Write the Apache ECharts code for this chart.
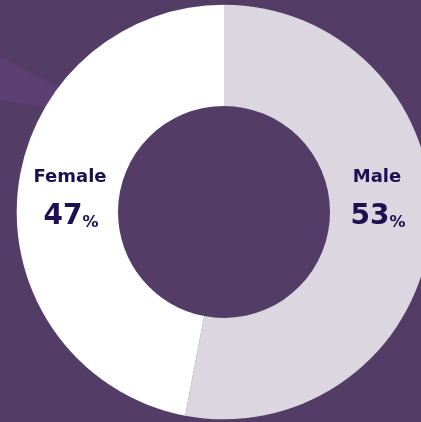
<!DOCTYPE html>
<html>
<head>
<meta charset="utf-8">
<script src="https://cdn.jsdelivr.net/npm/echarts@6/dist/echarts.min.js"></script>
<style>
html,body{margin:0;padding:0;background:#533c66;}
#c{width:421px;height:422px;}
</style>
</head>
<body>
<div id="c"></div>
<script>
var categories = ['Male', 'Female'];
var values = [53, 47];
var colors = ['#dcd6e0', '#ffffff'];

var chart = echarts.init(document.getElementById('c'), null, {renderer: 'canvas'});
var textColor = '#1c1050';
var font = '"DejaVu Sans", sans-serif';

function labelGroup(i, cx) {
  return [
    {
      type: 'text', z: 100,
      style: {
        text: categories[i], x: cx, y: 186, textAlign: 'center', textVerticalAlign: 'bottom',
        fontFamily: font, fontWeight: 'bold', fontSize: 18, fill: textColor
      }
    },
    {
      type: 'text', z: 100,
      style: {
        text: '{n|' + values[i] + '}{p|%}', x: cx + 1, y: 231, textAlign: 'center', textVerticalAlign: 'bottom',
        fill: textColor,
        rich: {
          n: {fontFamily: font, fontWeight: 'bold', fontSize: 28, fill: textColor, verticalAlign: 'bottom', lineHeight: 28},
          p: {fontFamily: font, fontWeight: 'bold', fontSize: 16, fill: textColor, verticalAlign: 'bottom', lineHeight: 23}
        }
      }
    }
  ];
}

chart.setOption({
  backgroundColor: '#533c66',
  animation: false,
  graphic: [
    {type: 'polygon', z: 0, shape: {points: [[0, 57], [119, 119], [0, 100]]}, style: {fill: '#5e3f73'}}
  ].concat(labelGroup(1, 70)).concat(labelGroup(0, 377)),
  series: [{
    type: 'pie',
    z: 10,
    center: [224, 212],
    radius: [106, 207.3],
    startAngle: 90,
    clockwise: true,
    label: {show: false},
    labelLine: {show: false},
    silent: true,
    itemStyle: {borderWidth: 0},
    data: categories.map(function (c, i) {
      return {name: c, value: values[i], itemStyle: {color: colors[i]}};
    })
  }]
});
</script>
</body>
</html>
